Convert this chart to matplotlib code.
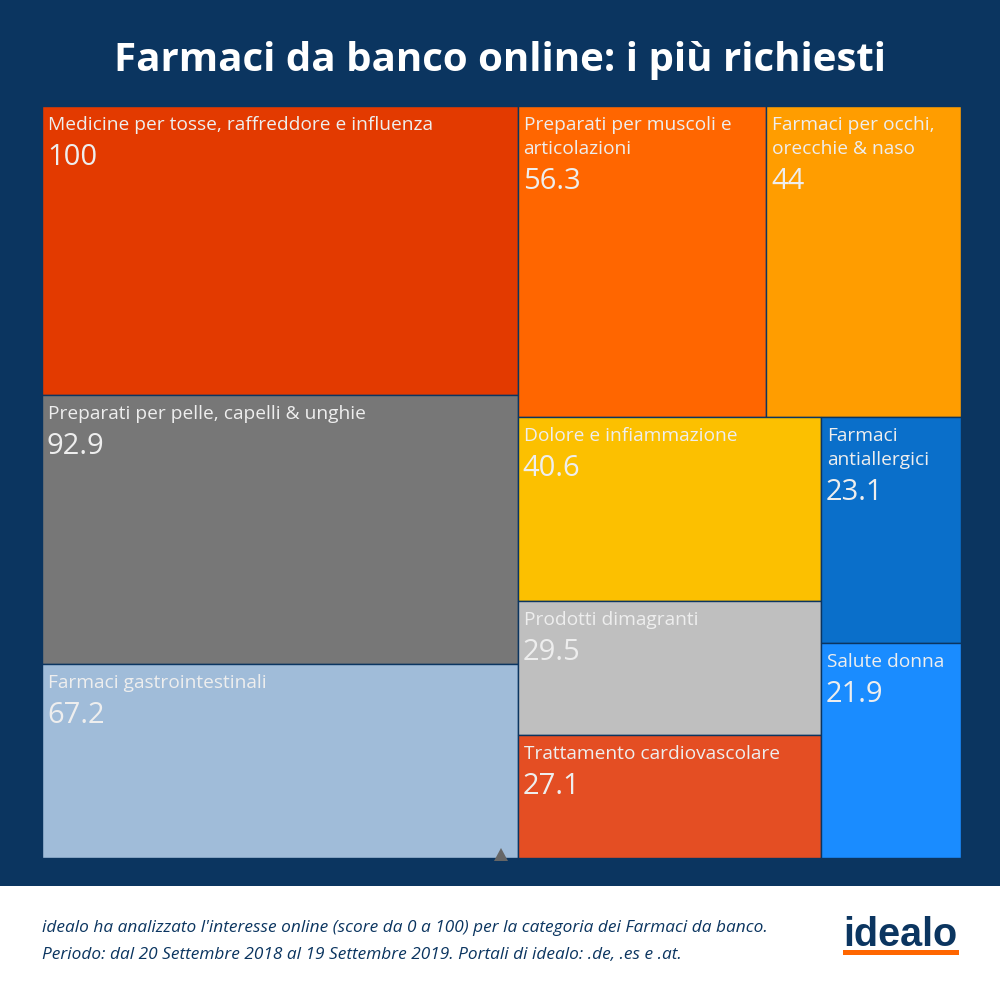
import matplotlib
matplotlib.use("Agg")
import matplotlib.pyplot as plt
from matplotlib.patches import Rectangle, Polygon

# data
labels = [
    "Medicine per tosse, raffreddore e influenza",
    "Preparati per pelle, capelli & unghie",
    "Farmaci gastrointestinali",
    "Preparati per muscoli e\narticolazioni",
    "Farmaci per occhi,\norecchie & naso",
    "Dolore e infiammazione",
    "Prodotti dimagranti",
    "Trattamento cardiovascolare",
    "Farmaci\nantiallergici",
    "Salute donna",
]
values = [100, 92.9, 67.2, 56.3, 44, 40.6, 29.5, 27.1, 23.1, 21.9]
value_text = ["100", "92.9", "67.2", "56.3", "44", "40.6", "29.5", "27.1", "23.1", "21.9"]
colors = ["#e33a00", "#777777", "#a0bcd9", "#ff6600", "#ff9d00",
          "#fcc000", "#bfbfbf", "#e44e23", "#0a6fca", "#1a8cff"]

# layout groups (how many cells per strip, strip direction)
groups = [3, 2, 3, 2]
dirs = ["v", "h", "v", "v"]

navy = "#0b3560"
txt = "#eeeeee"

plt.rcParams["font.family"] = ["Open Sans", "DejaVu Sans"]

fig = plt.figure(figsize=(10, 10), dpi=100)
fig.patch.set_facecolor(navy)
ax = fig.add_axes([0, 0, 1, 1])
ax.set_xlim(0, 1000)
ax.set_ylim(1000, 0)
ax.axis("off")


def strip_layout(vals, x, y, w, h):
    scale = w * h / sum(vals)
    rects = []
    i = 0
    for n, d in zip(groups, dirs):
        chunk = vals[i:i + n]
        area = sum(chunk) * scale
        if d == "v":
            cw = area / h
            yy = y
            for v in chunk:
                ch = v * scale / cw
                rects.append((x, yy, cw, ch))
                yy += ch
            x += cw
            w -= cw
        else:
            rh = area / w
            xx = x
            for v in chunk:
                cw = v * scale / rh
                rects.append((xx, y, cw, rh))
                xx += cw
            y += rh
            h -= rh
        i += n
    return rects


rects = strip_layout(values, 42, 106, 919, 752)

for (x, y, w, h), lab, vt, c in zip(rects, labels, value_text, colors):
    ax.add_patch(Rectangle((x, y), w, h, facecolor=c, edgecolor=navy, linewidth=1))
    lines = lab.split("\n")
    for k, line in enumerate(lines):
        ax.text(x + 6, y + 24 + 24 * k, line, color=txt, fontsize=13.8,
                ha="left", va="baseline")
    ax.text(x + 5, y + 59 + 24 * (len(lines) - 1), vt, color=txt, fontsize=21,
            ha="left", va="baseline")

# small marker at bottom of the gastro cell
ax.add_patch(Polygon([[494, 861], [501, 848], [508, 861]], closed=True,
                     facecolor="#666666", edgecolor="none"))

# title
ax.text(500, 60, "Farmaci da banco online: i più richiesti", color="white",
        fontsize=29, fontweight="bold", ha="center", va="center")

# footer
ax.add_patch(Rectangle((0, 886), 1000, 114, facecolor="white", edgecolor="none"))
ax.text(42, 932, "idealo ha analizzato l'interesse online (score da 0 a 100) per la categoria dei Farmaci da banco.",
        color=navy, fontsize=12.4, style="italic", ha="left", va="baseline")
ax.text(42, 959, "Periodo: dal 20 Settembre 2018 al 19 Settembre 2019. Portali di idealo: .de, .es e .at.",
        color=navy, fontsize=12.4, style="italic", ha="left", va="baseline")

# logo
ax.text(900, 946, "idealo", color=navy, fontsize=28.5, fontweight="bold",
        family="Liberation Sans", ha="center", va="baseline")
ax.add_patch(Rectangle((843, 950), 116, 5, facecolor="#ff6600", edgecolor="none"))

fig.savefig("out.png", dpi=100, facecolor=navy)
